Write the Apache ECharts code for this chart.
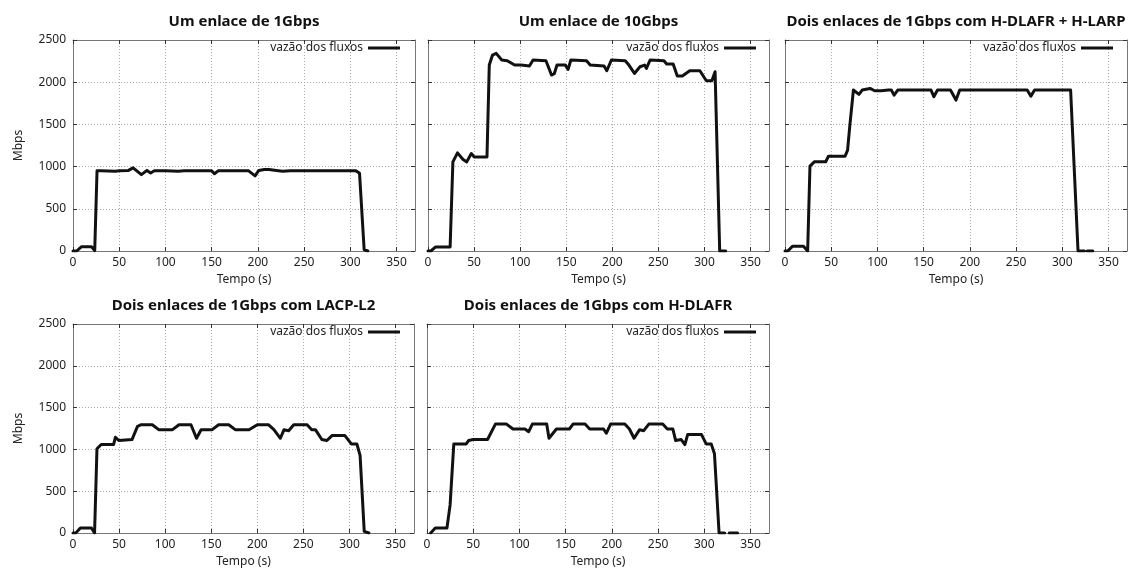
<!DOCTYPE html>
<html>
<head>
<meta charset="utf-8">
<script src="https://cdn.jsdelivr.net/npm/echarts@6/dist/echarts.min.js"></script>
<style>
html,body{margin:0;padding:0;background:#fff;}
#c{width:1129px;height:569px;}
</style>
</head>
<body>
<div id="c"></div>
<script>
// ---- data (time in s, throughput in Mbps) ----
const titles = [
  'Um enlace de 1Gbps',
  'Um enlace de 10Gbps',
  'Dois enlaces de 1Gbps com H-DLAFR + H-LARP',
  'Dois enlaces de 1Gbps com LACP-L2',
  'Dois enlaces de 1Gbps com H-DLAFR'
];
const seriesName = 'vazão dos fluxos';
const xTicks = [0, 50, 100, 150, 200, 250, 300, 350];
const yTicks = [0, 500, 1000, 1500, 2000, 2500];

const t1 = [0,4,9,20,23.5,26,30,46,50,60,65,70,74,80,84,88,100,114,120,150,153,157,170,190,197,201,207,212,220,227,235,250,300,306,310,315,319];
const v1 = [0,0,50,50,5,950,950,945,950,955,985,940,905,955,925,950,950,945,950,950,915,950,950,950,890,955,965,965,955,945,950,950,950,950,920,15,0];

const t2 = [0,3,8,24,27,32,38,42,47,50,64,66.5,70,74,80,86,94,101,110,114,128,134,137,140,149,152,155,172,176,191,194,199,214,218,224,230,235,237,241,256,259,266,270.5,276,284,295,302,308,311.5,316.5,323];
const v2 = [0,0,47,47,1056,1163,1084,1056,1155,1115,1115,2203,2322,2342,2263,2255,2203,2203,2191,2263,2255,2085,2100,2203,2203,2152,2263,2255,2203,2191,2136,2263,2255,2203,2104,2183,2203,2164,2263,2255,2215,2215,2073,2073,2136,2136,2017,2017,2124,0,0];

const t3 = [0,3,8,20,24.5,27,31.7,44,47,48.6,65,67.7,70,74,76,80,83.5,92,97,104,112,115,118,122,158,161,165,179,185,189,262,266,270,309,317,324,325.5,327,333];
const v3 = [0,0,55,55,0,1005,1056,1056,1123,1123,1123,1195,1471,1907,1907,1855,1907,1926,1899,1899,1907,1907,1847,1907,1907,1828,1907,1907,1788,1907,1907,1835,1907,1907,0,0,null,0,0];

const t4 = [0,3,8,20,23.4,26,30.6,44,46,49.7,64,66.6,70,74,86,93,108,115,128,134,139,151,158,169,176,191,200,212,218,225,229,234,239.5,254,259,263,270,275.5,281,295,302,308,311.5,316,321];
const v4 = [0,0,59,59,0,1007,1058,1058,1145,1106,1118,1185,1276,1295,1295,1236,1236,1295,1295,1133,1236,1236,1295,1295,1236,1236,1295,1295,1236,1133,1236,1224,1295,1295,1236,1236,1118,1106,1165,1165,1066,1066,928,20,0];

const t5 = [4,9,21.6,25,29,42.4,45,50,65.5,74,86,93,106,110,114,129.5,132,140,154,158,171,176,191,194,198.6,214,219,224,230,234.5,240,255,260,266,269,275,279,282,297,302,307.5,311,316,322,325.5,327,336];
const v5 = [0,59,59,336,1066,1066,1106,1118,1118,1303,1303,1244,1244,1212,1303,1303,1133,1244,1244,1303,1303,1244,1244,1193,1303,1303,1244,1133,1236,1224,1303,1303,1244,1244,1106,1118,1058,1177,1177,1066,1066,948,0,0,null,0,0];

const times = [t1, t2, t3, t4, t5];
const values = [v1, v2, v3, v4, v5];

// ---- layout ----
const panels = [
  {left:73,  top:40,  width:342, height:211, yLabels:true,  legendRight:729, legendTop:42},
  {left:428, top:40,  width:341, height:211, yLabels:false, legendRight:373, legendTop:42},
  {left:785, top:40,  width:342, height:211, yLabels:false, legendRight:16,  legendTop:42},
  {left:73,  top:324, width:341, height:211, yLabels:true,  legendRight:729, legendTop:326},
  {left:427, top:324, width:342, height:211, yLabels:false, legendRight:373, legendTop:326}
];

const FONT = 'Noto Sans';
const borderColor = '#777';
const gridLine = {show:true, lineStyle:{color:'#aaa', width:1, type:[1,2]}};

const option = {
  animation: false,
  backgroundColor: '#fff',
  textStyle: {fontFamily: FONT},
  grid: [], xAxis: [], yAxis: [], series: [], legend: []
};

panels.forEach((p, i) => {
  option.grid.push({left:p.left, top:p.top, width:p.width, height:p.height});
  const xBase = {
    type:'value', gridIndex:i, min:0, max:370, interval:50,
    axisLine:{show:true, onZero:false, lineStyle:{color:borderColor, width:1}},
    axisTick:{show:true, inside:true, length:4, customValues:xTicks, lineStyle:{color:'#333'}}
  };
  option.xAxis.push(Object.assign({}, xBase, {
    position:'bottom',
    name:'Tempo (s)', nameLocation:'middle', nameGap:23,
    nameTextStyle:{fontSize:12, color:'#222', fontFamily:FONT},
    axisLabel:{show:true, fontSize:12, color:'#222', margin:6, fontFamily:FONT,
               customValues:xTicks, formatter:(v) => String(v)},
    splitLine:gridLine
  }));
  option.xAxis.push(Object.assign({}, xBase, {
    position:'top',
    name:titles[i], nameLocation:'middle', nameGap:11,
    nameTextStyle:{fontSize:15, fontWeight:'bold', color:'#111', fontFamily:FONT},
    axisLabel:{show:false},
    splitLine:{show:false}
  }));
  const yBase = {
    type:'value', gridIndex:i, min:0, max:2500, interval:500,
    axisLine:{show:true, onZero:false, lineStyle:{color:borderColor, width:1}},
    axisTick:{show:true, inside:true, length:4, lineStyle:{color:'#333'}}
  };
  option.yAxis.push(Object.assign({}, yBase, {
    position:'left',
    name: p.yLabels ? 'Mbps' : '', nameLocation:'middle', nameGap:48,
    nameTextStyle:{fontSize:12, color:'#222', fontFamily:FONT},
    axisLabel:{show:p.yLabels, fontSize:12, color:'#222', margin:7, fontFamily:FONT,
               customValues:yTicks, formatter:(v) => String(v)},
    splitLine:gridLine
  }));
  option.yAxis.push(Object.assign({}, yBase, {
    position:'right',
    axisLabel:{show:false},
    splitLine:{show:false}
  }));
  option.series.push({
    name: seriesName,
    type:'line',
    xAxisIndex: 2*i,
    yAxisIndex: 2*i,
    showSymbol:false,
    symbol:'none',
    connectNulls:false,
    lineStyle:{color:'#111', width:3, join:'round', cap:'round'},
    itemStyle:{color:'#111'},
    data: times[i].map((t, k) => [t, values[i][k] === null ? '-' : values[i][k]])
  });
  option.legend.push({
    data:[seriesName],
    right:p.legendRight, top:p.legendTop,
    padding:0,
    align:'right',
    icon:'rect',
    itemWidth:32, itemHeight:3,
    selectedMode:false,
    textStyle:{fontSize:12, color:'#222', fontFamily:FONT}
  });
});

const chart = echarts.init(document.getElementById('c'), null, {renderer:'canvas'});
chart.setOption(option);
</script>
</body>
</html>
